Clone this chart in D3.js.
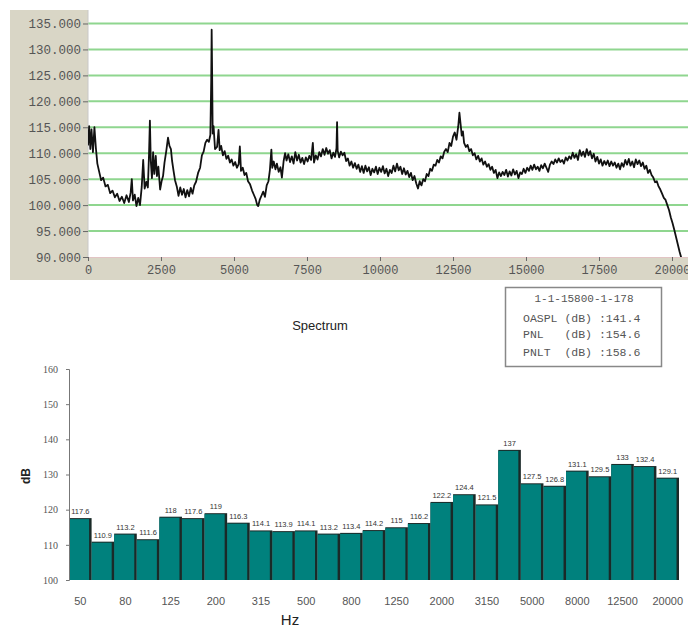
<!DOCTYPE html>
<html>
<head>
<meta charset="utf-8">
<script src="https://cdn.jsdelivr.net/npm/d3@7"></script>
<style>
  body { margin: 0; background: #fff; }
  svg { display: block; }
</style>
</head>
<body>
<div id="chart"></div>
<script>
// spectrum: [Hz, dB]
var spectrum = [
  [0,111.5],[40,115.2],[80,110.8],[120,114.6],[170,110.2],[220,115.0],[270,111.0],[320,108.0],
  [380,106.5],[450,104.8],[520,105.3],[600,103.6],[680,103.9],[760,102.3],[840,102.8],[920,101.5],
  [1000,102.2],[1080,100.8],[1160,101.6],[1240,100.4],[1320,101.9],[1400,100.6],[1460,102.4],[1500,105.0],
  [1540,100.9],[1600,102.0],[1660,99.8],[1720,101.4],[1780,100.0],[1840,103.5],[1890,108.7],[1940,103.2],
  [2000,104.5],[2050,103.4],[2090,109.8],[2120,116.3],[2150,108.5],[2190,105.2],[2230,110.2],[2270,106.0],
  [2320,109.5],[2360,105.6],[2410,107.4],[2470,103.0],[2520,104.6],[2570,105.6],[2620,108.2],[2680,110.4],
  [2740,113.0],[2790,111.4],[2840,110.8],[2880,108.5],[2930,106.6],[2980,104.8],[3040,103.6],[3100,101.8],
  [3160,103.4],[3220,102.0],[3280,103.1],[3340,101.5],[3400,102.9],[3460,101.7],[3520,103.3],[3580,102.2],
  [3640,103.8],[3700,104.5],[3770,106.2],[3840,107.2],[3900,109.6],[3960,110.3],[4020,112.0],[4080,112.6],
  [4140,112.2],[4190,113.5],[4220,124.0],[4235,133.8],[4250,126.0],[4270,113.8],[4300,115.2],[4350,110.8],
  [4420,111.2],[4470,114.5],[4510,110.6],[4560,111.4],[4620,109.6],[4680,110.4],[4740,108.9],[4800,109.5],
  [4860,108.2],[4920,108.8],[4980,107.6],[5040,108.3],[5100,107.2],[5160,107.9],[5200,111.3],[5240,106.6],
  [5300,107.2],[5360,105.8],[5420,106.2],[5480,104.6],[5550,104.0],[5620,102.8],[5680,102.0],[5740,101.2],
  [5790,100.1],[5830,99.8],[5880,101.0],[5940,101.8],[6000,102.6],[6060,101.6],[6120,103.8],[6180,104.6],
  [6230,106.8],[6280,110.7],[6310,107.2],[6360,108.4],[6420,106.9],[6470,108.0],[6530,106.4],[6590,107.3],
  [6640,105.3],[6700,108.5],[6750,110.0],[6800,108.6],[6860,109.8],[6920,108.3],[6980,109.4],[7040,108.0],
  [7100,110.2],[7160,108.6],[7220,109.7],[7280,108.2],[7340,109.1],[7400,107.9],[7460,109.2],[7520,108.4],
  [7580,109.5],[7640,108.7],[7700,112.0],[7740,108.2],[7800,109.6],[7860,108.8],[7920,110.2],[7980,109.4],
  [8040,110.8],[8100,109.7],[8160,111.0],[8220,109.9],[8280,110.6],[8340,109.0],[8400,110.1],[8460,109.3],
  [8510,111.0],[8530,116.0],[8550,110.5],[8600,109.2],[8660,110.3],[8720,109.6],[8780,110.1],[8840,108.5],
  [8900,109.0],[8960,107.6],[9020,108.4],[9080,107.2],[9140,108.1],[9200,107.0],[9260,107.8],[9320,106.4],
  [9380,107.5],[9440,106.2],[9500,107.6],[9560,106.5],[9620,107.3],[9680,105.8],[9740,107.0],[9800,106.3],
  [9860,107.4],[9920,106.0],[9980,107.2],[10040,106.4],[10100,107.5],[10160,106.1],[10220,107.0],[10280,105.6],
  [10340,106.8],[10400,106.2],[10460,107.6],[10520,106.5],[10580,108.0],[10640,106.7],[10700,107.4],[10760,106.0],
  [10820,107.1],[10880,105.9],[10940,106.6],[11000,105.4],[11060,106.2],[11120,104.8],[11180,105.6],[11240,104.2],
  [11300,103.2],[11360,104.6],[11420,103.8],[11480,105.0],[11540,104.6],[11600,106.0],[11660,105.6],[11720,107.0],
  [11780,106.6],[11840,107.8],[11900,107.6],[11960,108.7],[12020,108.2],[12080,109.4],[12140,109.0],[12200,110.3],
  [12260,110.8],[12320,110.2],[12380,112.0],[12440,111.4],[12500,113.2],[12560,114.0],[12620,112.6],[12680,115.2],
  [12720,117.8],[12760,115.6],[12800,113.4],[12840,114.2],[12880,112.0],[12940,111.2],[13000,111.6],[13060,110.4],
  [13120,110.8],[13180,109.6],[13240,110.0],[13300,108.8],[13360,109.5],[13420,108.4],[13480,109.0],[13540,107.8],
  [13600,108.4],[13660,107.4],[13720,107.9],[13780,106.8],[13840,107.4],[13900,106.2],[13960,106.8],[14020,105.2],
  [14080,106.3],[14140,105.6],[14200,106.4],[14260,105.8],[14320,106.8],[14380,105.5],[14440,106.5],[14500,105.7],
  [14560,106.9],[14620,105.9],[14680,106.6],[14740,105.2],[14800,106.3],[14860,106.0],[14920,107.0],[14980,106.2],
  [15040,107.2],[15100,106.6],[15160,107.6],[15220,106.8],[15280,107.8],[15340,106.9],[15400,107.4],[15460,106.6],
  [15520,107.7],[15580,107.1],[15640,108.0],[15700,107.2],[15760,106.4],[15820,107.8],[15880,108.4],[15940,107.9],
  [16000,108.8],[16060,108.2],[16120,109.0],[16180,108.3],[16240,108.7],[16300,108.0],[16360,109.2],[16420,108.6],
  [16480,109.4],[16540,108.9],[16600,110.1],[16660,109.1],[16720,109.8],[16780,108.7],[16840,110.6],[16900,109.5],
  [16960,110.3],[17020,109.3],[17080,110.8],[17140,109.6],[17200,110.4],[17260,109.0],[17320,109.9],[17380,108.4],
  [17440,109.3],[17500,108.0],[17560,108.8],[17620,107.6],[17680,108.5],[17740,107.8],[17800,108.6],[17860,107.5],
  [17920,108.4],[17980,107.6],[18040,108.2],[18100,107.2],[18160,108.0],[18220,106.9],[18280,108.1],[18340,107.4],
  [18400,108.7],[18460,107.8],[18520,108.9],[18580,107.6],[18640,108.4],[18700,107.3],[18760,108.8],[18820,107.9],
  [18880,108.6],[18940,107.5],[19000,108.2],[19060,107.0],[19120,107.6],[19180,106.2],[19240,106.8],[19300,105.8],
  [19360,105.3],[19420,104.4],[19480,104.6],[19540,103.6],[19600,103.0],[19660,102.2],[19720,101.4],[19780,101.0],
  [19840,100.0],[19900,99.0],[19960,97.6],[20020,96.5],[20080,95.2],[20140,93.8],[20200,92.4],[20260,91.0],
  [20330,89.6]
];
var spectrumYTicks = [90, 95, 100, 105, 110, 115, 120, 125, 130, 135];
var spectrumXTicks = [0, 2500, 5000, 7500, 10000, 12500, 15000, 17500, 20000];

// 1/3 octave bands
var bands = ["50","63","80","100","125","160","200","250","315","400","500","630","800","1000",
  "1250","1600","2000","2500","3150","4000","5000","6300","8000","10000","12500","16000","20000"];
var bandLevels = [117.6,110.9,113.2,111.6,118,117.6,119,116.3,114.1,113.9,114.1,113.2,113.4,114.2,
  115,116.2,122.2,124.4,121.5,137,127.5,126.8,131.1,129.5,133,132.4,129.1];
var bandTickLabels = ["50","80","125","200","315","500","800","1250","2000","3150","5000","8000","12500","20000"];
var barYTicks = [100, 110, 120, 130, 140, 150, 160];

var infoLines = ["OASPL (dB) :141.4", "PNL   (dB) :154.6", "PNLT  (dB) :158.6"];
var infoTitle = "1-1-15800-1-178";

var svg = d3.select("#chart").append("svg")
  .attr("width", 688)
  .attr("height", 628);

// ---- top: narrow band spectrum ----
var specM = { left: 88, right: 688, top: 10, bottom: 257 };

svg.append("rect")
  .attr("x", 10).attr("y", 10)
  .attr("width", 678).attr("height", 270)
  .attr("fill", "#d9d6c6");

svg.append("rect")
  .attr("x", specM.left).attr("y", specM.top)
  .attr("width", specM.right - specM.left).attr("height", specM.bottom - specM.top)
  .attr("fill", "#fff");

var xSpec = d3.scaleLinear().domain([0, 20548]).range([specM.left, specM.right]);
var ySpec = d3.scaleLinear().domain([90, 137.6]).range([specM.bottom, specM.top]);

// green grid
svg.append("g").selectAll("line")
  .data(spectrumYTicks.filter(d => d > 90))
  .enter().append("line")
    .attr("x1", specM.left).attr("x2", specM.right)
    .attr("y1", d => ySpec(d)).attr("y2", d => ySpec(d))
    .attr("stroke", "#8fd68f")
    .attr("stroke-width", 2);

svg.append("line")
  .attr("x1", specM.left).attr("x2", specM.left)
  .attr("y1", specM.top).attr("y2", specM.bottom)
  .attr("stroke", "#c8c8c8");

svg.append("defs").append("clipPath").attr("id", "specClip")
  .append("rect")
    .attr("x", specM.left).attr("y", specM.top)
    .attr("width", specM.right - specM.left).attr("height", specM.bottom - specM.top);

var specLine = d3.line()
  .x(d => xSpec(d[0]))
  .y(d => ySpec(d[1]));

svg.append("path")
  .datum(spectrum)
  .attr("clip-path", "url(#specClip)")
  .attr("d", specLine)
  .attr("fill", "none")
  .attr("stroke", "#111")
  .attr("stroke-width", 1.8)
  .attr("stroke-linejoin", "round");

var yAxisSpec = svg.append("g")
  .attr("transform", `translate(${specM.left},0)`)
  .call(d3.axisLeft(ySpec).tickValues(spectrumYTicks).tickSize(5).tickPadding(2)
    .tickFormat(d => d + ".000"));
yAxisSpec.select(".domain").remove();
yAxisSpec.selectAll("line").attr("stroke", "#666");
yAxisSpec.selectAll("text")
  .attr("fill", "#555")
  .style("font-family", "Liberation Mono, monospace")
  .style("font-size", "12.5px");

var xAxisSpec = svg.append("g")
  .attr("transform", `translate(0,${specM.bottom})`)
  .call(d3.axisBottom(xSpec).tickValues(spectrumXTicks).tickSize(4).tickPadding(4)
    .tickFormat(d => d));
xAxisSpec.select(".domain")
  .attr("d", `M${specM.left},0.5H${specM.right}`)
  .attr("stroke", "#e2c4c4");
xAxisSpec.selectAll("line").attr("stroke", "#666");
xAxisSpec.selectAll("text")
  .attr("fill", "#555")
  .style("font-family", "Liberation Mono, monospace")
  .style("font-size", "12px");

// info box
var info = svg.append("g");
info.append("rect")
  .attr("x", 505.5).attr("y", 287.5)
  .attr("width", 156).attr("height", 79)
  .attr("fill", "#fff")
  .attr("stroke", "#888")
  .attr("stroke-width", 1.5);
info.append("text")
  .attr("x", 584).attr("y", 302)
  .attr("text-anchor", "middle")
  .attr("fill", "#555")
  .style("font-family", "Liberation Mono, monospace")
  .style("font-size", "11px")
  .text(infoTitle);
info.selectAll(".infoLine").data(infoLines)
  .enter().append("text")
    .attr("class", "infoLine")
    .attr("x", 523)
    .attr("y", (d, i) => [322, 338, 356][i])
    .attr("fill", "#555")
    .attr("xml:space", "preserve")
    .style("white-space", "pre")
    .style("font-family", "Liberation Mono, monospace")
    .style("font-size", "11.5px")
    .text(d => d);

svg.append("text")
  .attr("x", 320).attr("y", 330)
  .attr("text-anchor", "middle")
  .attr("fill", "#222")
  .style("font-family", "Liberation Sans, Arial, sans-serif")
  .style("font-size", "13px")
  .text("Spectrum");

// ---- bottom: 1/3 octave bars ----
var bot = { left: 69, right: 679, top: 369, bottom: 580 };

var xBand = d3.scaleBand().domain(bands).range([bot.left, bot.right]).padding(0);
var yBand = d3.scaleLinear().domain([100, 160]).range([bot.bottom, bot.top]);

var bars = svg.append("g").selectAll("g").data(bands)
  .enter().append("g");

bars.append("rect")
  .attr("x", d => xBand(d))
  .attr("y", (d, i) => yBand(bandLevels[i]))
  .attr("width", xBand.bandwidth())
  .attr("height", (d, i) => bot.bottom - yBand(bandLevels[i]))
  .attr("fill", "#1a2a28");

bars.append("rect")
  .attr("x", d => xBand(d))
  .attr("y", (d, i) => yBand(bandLevels[i]) + 1)
  .attr("width", xBand.bandwidth() - 2.5)
  .attr("height", (d, i) => bot.bottom - yBand(bandLevels[i]) - 1)
  .attr("fill", "#00817d");

bars.append("text")
  .attr("x", d => xBand(d) + xBand.bandwidth() / 2)
  .attr("y", (d, i) => yBand(bandLevels[i]) - 4)
  .attr("text-anchor", "middle")
  .attr("fill", "#333")
  .style("font-family", "Liberation Sans, Arial, sans-serif")
  .style("font-size", "7.5px")
  .text((d, i) => bandLevels[i]);

var yAxisBar = svg.append("g")
  .attr("transform", `translate(${bot.left},0)`)
  .call(d3.axisLeft(yBand).tickValues(barYTicks).tickSize(3).tickPadding(8));
yAxisBar.select(".domain").attr("stroke", "#777");
yAxisBar.selectAll("line").attr("stroke", "#777");
yAxisBar.selectAll("text")
  .attr("fill", "#555")
  .style("font-family", "Liberation Serif, serif")
  .style("font-size", "10px");

var xAxisBar = svg.append("g")
  .attr("transform", `translate(0,${bot.bottom})`)
  .call(d3.axisBottom(xBand).tickValues(bandTickLabels).tickSize(0).tickPadding(17));
xAxisBar.select(".domain").remove();
xAxisBar.selectAll("text")
  .attr("fill", "#555")
  .style("font-family", "Liberation Sans, Arial, sans-serif")
  .style("font-size", "11px");

svg.append("text")
  .attr("x", 290).attr("y", 625)
  .attr("text-anchor", "middle")
  .attr("fill", "#222")
  .style("font-family", "Liberation Sans, Arial, sans-serif")
  .style("font-size", "15px")
  .text("Hz");

svg.append("text")
  .attr("transform", "translate(30,476) rotate(-90)")
  .attr("text-anchor", "middle")
  .attr("fill", "#222")
  .style("font-family", "Liberation Sans, Arial, sans-serif")
  .style("font-size", "12px")
  .style("font-weight", "bold")
  .text("dB");
</script>
</body>
</html>
